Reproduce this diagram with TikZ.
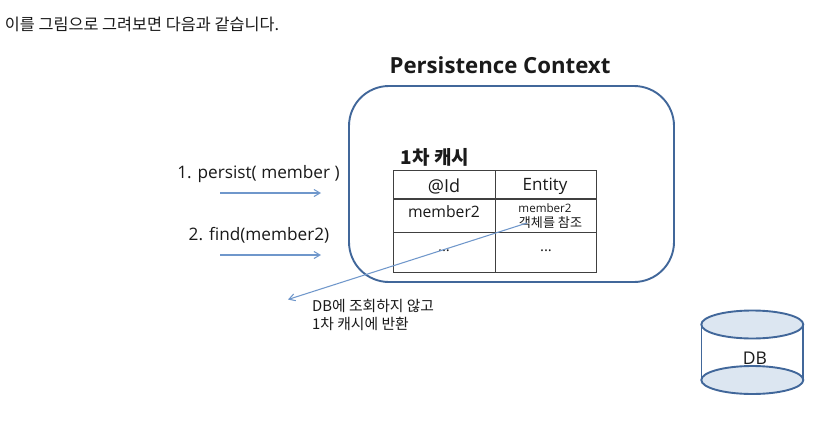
\documentclass[tikz,border=0pt]{standalone}
\usepackage{fontspec}
\setmainfont{Noto Sans CJK KR}
\newfontfamily\latinf{Open Sans}
\definecolor{frameblue}{HTML}{41679A}
\definecolor{linkblue}{HTML}{6F97CB}
\definecolor{dbfill}{HTML}{DCE6F1}
\definecolor{ink}{HTML}{1A1A1A}
\usetikzlibrary{arrows.meta}
\tikzset{
  txt/.style={inner sep=0pt,text=ink,anchor=center,align=left},
  link/.style={draw=linkblue,line width=1.05pt,-{Straight Barb[length=6pt,width=7pt,line width=1.05pt]}},
  grid/.style={draw=black!75,line width=1.1pt},
  dbend/.style={draw=frameblue,line width=1.9pt,fill=dbfill}
}
\begin{document}
\begin{tikzpicture}[x=1pt,y=-1pt]
\path[use as bounding box,fill=white] (0,0) rectangle (820,423);
\node[txt,font=\fontsize{16.3}{18}\selectfont] (intro) at (142,24) {이를 그림으로 그려보면 다음과 같습니다.};
\node[txt,font=\fontsize{22.2}{24}\selectfont\bfseries\latinf] (title) at (500,65) {Persistence Context};
\draw[draw=frameblue,line width=1.9pt,rounded corners=40pt] (349,86) rectangle (674,282);
\node[txt,font=\fontsize{19}{20}\selectfont\bfseries] (cache) at (435,157) {1차 캐시};
% table
\draw[grid] (393.5,170.7) rectangle (596.7,272.3);
\draw[grid] (393.5,199) -- (596.7,199);
\draw[grid] (393.5,232.3) -- (596.7,232.3);
\draw[grid] (495.5,170.7) -- (495.5,272.3);
\node[txt,font=\fontsize{18}{20}\selectfont\latinf] (idh) at (444,186) {@Id};
\node[txt,font=\fontsize{17}{20}\selectfont\latinf] (enth) at (545,186) {Entity};
\node[txt,font=\fontsize{15.7}{18}\selectfont\latinf] (m2) at (444,212) {member2};
\node[txt,font=\fontsize{11.6}{13}\selectfont\latinf] (m2a) at (545,208) {member2};
\node[txt,font=\fontsize{13.1}{14}\selectfont] (m2b) at (550.5,223) {객체를 참조};
\node[txt,font=\fontsize{15}{16}\selectfont\latinf] (d1) at (444,251) {...};
\node[txt,font=\fontsize{15}{16}\selectfont\latinf] (d2) at (546,251) {...};
% left labels
\node[txt,font=\fontsize{17.2}{19}\selectfont\latinf] (l1) at (258.5,174) {1. persist( member )};
\node[txt,font=\fontsize{17.2}{19}\selectfont\latinf] (l2) at (259,235) {2. find(member2)};
\coordinate (a1s) at (220,193);
\coordinate (a1e) at (321,193);
\coordinate (a2s) at (220,255);
\coordinate (a2e) at (321,255);
\coordinate (a3s) at (527,223);
\coordinate (a3e) at (288,299.5);
\draw[link] (a1s) -- (a1e);
\draw[link] (a2s) -- (a2e);
\draw[link] (a3s) -- (a3e);
\node[txt,anchor=west,font=\fontsize{14.8}{18}\selectfont] (note) at (312,314.5) {DB에 조회하지 않고\\1차 캐시에 반환};
% DB
\draw[draw=frameblue,line width=1.4pt] (701.5,324) -- (701.5,380) (803,324) -- (803,380);
\draw[dbend] (752.3,380) ellipse (51pt and 14pt);
\draw[dbend] (752.3,324.5) ellipse (51pt and 14pt);
\node[txt,font=\fontsize{17.5}{19}\selectfont\latinf] (db) at (755,358) {DB};
\end{tikzpicture}
\end{document}
